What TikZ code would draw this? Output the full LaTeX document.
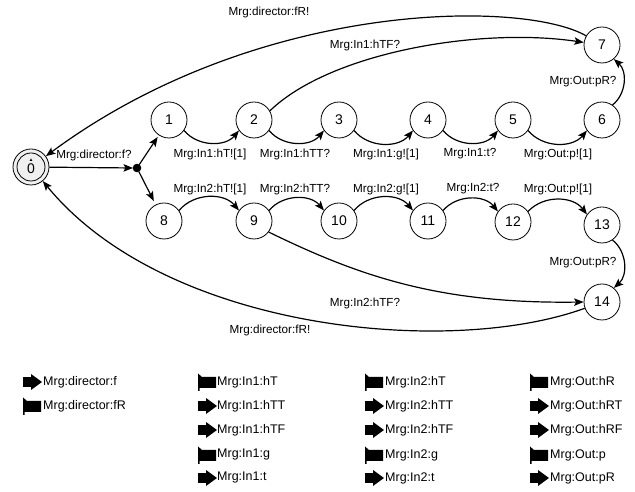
\documentclass[tikz,border=0pt]{standalone}
\usepackage{fontspec}
\setmainfont{Liberation Sans}
\usetikzlibrary{arrows.meta}
\begin{document}
\begin{tikzpicture}[x=1pt,y=1pt,
  state/.style={circle,draw,line width=0.8pt,minimum size=36pt,inner sep=0pt,
                font=\fontsize{14}{14}\selectfont},
  lbl/.style={font=\fontsize{11.7}{12}\selectfont,inner sep=0pt},
  arr/.style={line width=1.2pt,-{Stealth[length=9.5pt,width=7.5pt,inset=2pt]}},
  leg/.style={font=\fontsize{12.5}{13}\selectfont,anchor=west,inner sep=0pt},
  sendicon/.pic={\fill (0,-5) rectangle (9,5); \fill (8,-8) -- (19,0) -- (8,8) -- cycle;},
  recvicon/.pic={\fill (0,8.5) -- (4,5) -- (18,5) -- (18,-6) -- (1.5,-6) -- (1.5,-9) -- (0,-9) -- cycle;},
]
\useasboundingbox (0,0) rectangle (635,492);

% initial state
\node[state,fill=gray!12] (n0) at (31,325) {};
\draw[line width=0.8pt] (n0.center) circle (14pt);
\node[font=\fontsize{14}{14}\selectfont,inner sep=0pt] (z0) at (31,323) {0};
\fill (29.6,331) -- (32.4,331) -- (31,333.5) -- cycle;

% fork point
\fill (137,324) circle (4.3pt);
\coordinate (fork) at (137,324);

% upper branch
\node[state] (n1) at (169,372) {1};
\node[state] (n2) at (254,372) {2};
\node[state] (n3) at (339,372) {3};
\node[state] (n4) at (428,372) {4};
\node[state] (n5) at (513,372) {5};
\node[state] (n6) at (602,372) {6};
\node[state] (n7) at (602,447) {7};

% lower branch
\node[state] (n8) at (164,271) {8};
\node[state] (n9) at (254,271) {9};
\node[state] (n10) at (339,271) {10};
\node[state] (n11) at (428,271) {11};
\node[state] (n12) at (513,270) {12};
\node[state] (n13) at (602,267) {13};
\node[state] (n14) at (602,190) {14};

% transitions
\draw[arr] (n0) -- ([xshift=-4pt]fork);
\node[lbl] (t0) at (94,337) {Mrg:director:f?};
\draw[arr,shorten <=4pt,shorten >=2pt] (fork) -- (n1);
\draw[arr,shorten <=4pt,shorten >=4pt] (fork) -- (n8);

\draw[arr] (n1.-35) to[bend right=50] (n2.-145);
\draw[arr] (n2.-35) to[bend right=50] (n3.-145);
\draw[arr] (n3.-35) to[bend right=50] (n4.-145);
\draw[arr] (n4.-35) to[bend right=50] (n5.-145);
\draw[arr] (n5.-35) to[bend right=50] (n6.-145);
\node[lbl] (t1) at (210,338) {Mrg:In1:hT![1]};
\node[lbl] (t2) at (295,338) {Mrg:In1:hTT?};
\node[lbl] (t3) at (386,338) {Mrg:In1:g![1]};
\node[lbl] (t4) at (470,338) {Mrg:In1:t?};
\node[lbl] (t5) at (558,338) {Mrg:Out:p![1]};

\draw[arr] (n8.35) to[bend left=50] (n9.145);
\draw[arr] (n9.35) to[bend left=50] (n10.145);
\draw[arr] (n10.35) to[bend left=50] (n11.145);
\draw[arr] (n11.35) to[bend left=50] (n12.145);
\draw[arr] (n12.35) to[bend left=50] (n13.145);
\node[lbl] (b1) at (210,303) {Mrg:In2:hT![1]};
\node[lbl] (b2) at (295,303) {Mrg:In2:hTT?};
\node[lbl] (b3) at (386,303) {Mrg:In2:g![1]};
\node[lbl] (b4) at (473,303) {Mrg:In2:t?};
\node[lbl] (b5) at (558,303) {Mrg:Out:p![1]};

\draw[arr] (n6.55) to[bend right=50] (n7.-50);
\node[lbl] (t6) at (583,410) {Mrg:Out:pR?};
\draw[arr] (n13.-55) to[bend left=50] (n14.50);
\node[lbl] (b6) at (583,229) {Mrg:Out:pR?};

\draw[arr] (n2.30) to[out=44,in=171.5,out distance=84pt,in distance=105pt] (n7.172);
\node[lbl] (t7) at (365,447) {Mrg:In1:hTF?};
\draw[arr] (n9.-37) to[out=-26,in=180.8,out distance=101pt,in distance=144pt] (n14.180);
\node[lbl] (b7) at (365,189) {Mrg:In2:hTF?};

\draw[arr] (n7.150) to[out=150,in=36.5,out distance=72pt,in distance=264pt] (n0.36.5);
\node[lbl] (t8) at (269,480) {Mrg:director:fR!};
\draw[arr] (n14.200) to[out=200,in=-50.6,out distance=144pt,in distance=194pt] (n0.-50.6);
\node[lbl] (b8) at (270,162) {Mrg:director:fR!};

% legend
\pic at (23,110) {sendicon};   \node[leg] (g1) at (43,110) {Mrg:director:f};
\pic at (23,86)  {recvicon};   \node[leg] (g2) at (43,86)  {Mrg:director:fR};

\pic at (198,110) {recvicon};  \node[leg] (g3) at (217,110) {Mrg:In1:hT};
\pic at (198,86)  {sendicon};  \node[leg] (g4) at (217,86)  {Mrg:In1:hTT};
\pic at (198,62)  {sendicon};  \node[leg] (g5) at (217,62)  {Mrg:In1:hTF};
\pic at (198,37)  {recvicon};  \node[leg] (g6) at (217,37)  {Mrg:In1:g};
\pic at (198,14)  {sendicon};  \node[leg] (g7) at (217,14)  {Mrg:In1:t};

\pic at (365,110) {recvicon};  \node[leg] (g8) at (385,110) {Mrg:In2:hT};
\pic at (365,86)  {sendicon};  \node[leg] (g9) at (385,86)  {Mrg:In2:hTT};
\pic at (365,62)  {sendicon};  \node[leg] (g10) at (385,62) {Mrg:In2:hTF};
\pic at (365,37)  {recvicon};  \node[leg] (g11) at (385,37) {Mrg:In2:g};
\pic at (365,14)  {sendicon};  \node[leg] (g12) at (385,14) {Mrg:In2:t};

\pic at (530,110) {recvicon};  \node[leg] (g13) at (550,110) {Mrg:Out:hR};
\pic at (530,86)  {sendicon};  \node[leg] (g14) at (550,86)  {Mrg:Out:hRT};
\pic at (530,62)  {sendicon};  \node[leg] (g15) at (550,62)  {Mrg:Out:hRF};
\pic at (530,37)  {recvicon};  \node[leg] (g16) at (550,37)  {Mrg:Out:p};
\pic at (530,14)  {sendicon};  \node[leg] (g17) at (550,14)  {Mrg:Out:pR};
\end{tikzpicture}
\end{document}
